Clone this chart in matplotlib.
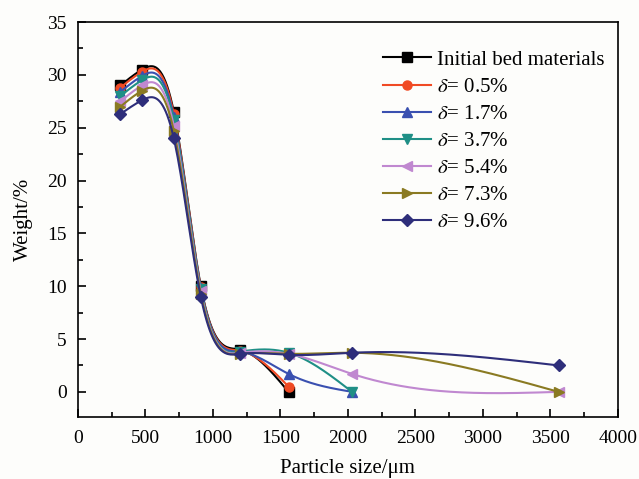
import numpy as np
import matplotlib
matplotlib.use("Agg")
import matplotlib.pyplot as plt

plt.rcParams['font.family'] = ['Liberation Serif', 'DejaVu Serif']
plt.rcParams['mathtext.fontset'] = 'stix'

# sieve sizes (um) and weight fractions (%)
size_a = [315, 475, 710, 910, 1200, 1560]
size_b = [315, 475, 710, 910, 1200, 1560, 2030]
size_c = [315, 475, 710, 910, 1200, 1560, 2030, 3560]

w_initial = [29.0, 30.5, 26.5, 10.0, 4.0, 0.0]
w_05 = [28.8, 30.3, 26.3, 9.9, 3.9, 0.5]
w_17 = [28.4, 29.9, 26.0, 9.8, 3.8, 1.7, 0.0]
w_37 = [28.0, 29.5, 25.7, 9.7, 3.8, 3.7, 0.0]
w_54 = [27.5, 29.0, 25.2, 9.5, 3.7, 3.6, 1.7, 0.0]
w_73 = [27.0, 28.5, 24.7, 9.3, 3.6, 3.6, 3.7, 0.0]
w_96 = [26.3, 27.6, 24.0, 9.0, 3.6, 3.5, 3.7, 2.5]

labels = ['Initial bed materials', r'$\delta$= 0.5%', r'$\delta$= 1.7%', r'$\delta$= 3.7%',
          r'$\delta$= 5.4%', r'$\delta$= 7.3%', r'$\delta$= 9.6%']
series = [(size_a, w_initial), (size_a, w_05), (size_b, w_17), (size_b, w_37),
          (size_c, w_54), (size_c, w_73), (size_c, w_96)]
colors = ['#000000', '#f04a24', '#3a50b0', '#1f8f86', '#c088d0', '#8a7a22', '#2e2e7a']
markers = ['s', 'o', '^', 'v', '<', '>', 'D']


def natural_spline(x, y, n=300):
    # plain natural cubic spline, only used to draw the smooth connecting line
    x = np.asarray(x, float)
    y = np.asarray(y, float)
    k = len(x)
    h = np.diff(x)
    A = np.zeros((k, k))
    b = np.zeros(k)
    A[0, 0] = 1
    A[-1, -1] = 1
    for i in range(1, k - 1):
        A[i, i - 1] = h[i - 1]
        A[i, i] = 2 * (h[i - 1] + h[i])
        A[i, i + 1] = h[i]
        b[i] = 6 * ((y[i + 1] - y[i]) / h[i] - (y[i] - y[i - 1]) / h[i - 1])
    m = np.linalg.solve(A, b)
    xs = np.linspace(x[0], x[-1], n)
    idx = np.clip(np.searchsorted(x, xs) - 1, 0, k - 2)
    x0, x1 = x[idx], x[idx + 1]
    hh = x1 - x0
    t0 = x1 - xs
    t1 = xs - x0
    ys = (m[idx] * t0**3 + m[idx + 1] * t1**3) / (6 * hh) \
        + (y[idx] / hh - m[idx] * hh / 6) * t0 + (y[idx + 1] / hh - m[idx + 1] * hh / 6) * t1
    return xs, ys


fig = plt.figure(figsize=(6.39, 4.79), dpi=100, facecolor='#fdfdfb')
ax = fig.add_axes([0.122, 0.129, 0.845, 0.825])
ax.set_facecolor('#fdfdfb')

for (xv, yv), lab, c, mk in zip(series, labels, colors, markers):
    xs, ys = natural_spline(xv, yv)
    ax.plot(xs, ys, color=c, lw=1.5)
    ax.plot(xv, yv, ls='none', marker=mk, color=c, ms=6.5)
    ax.plot([], [], color=c, lw=1.5, marker=mk, ms=6.5, label=lab)

ax.set_xlim(0, 4000)
ax.set_ylim(-2.4, 35)
ax.set_xticks(np.arange(0, 4001, 500))
ax.set_xticks(np.arange(250, 4000, 500), minor=True)
ax.set_yticks(np.arange(0, 36, 5))
ax.set_yticks(np.arange(2.5, 35, 5), minor=True)
ax.tick_params(which='both', direction='in', top=False, right=False, labelsize=14, width=1.2)
ax.tick_params(axis='x', which='major', length=6, pad=9)
ax.tick_params(axis='y', which='major', length=6, pad=8)
ax.tick_params(which='minor', length=3.5)
for s in ax.spines.values():
    s.set_linewidth(1.2)

ax.set_xlabel('Particle size/μm', fontsize=15, labelpad=9)
ax.set_ylabel('Weight/%', fontsize=15, labelpad=10)

ax.legend(loc='upper left', bbox_to_anchor=(0.55, 0.95), frameon=False, fontsize=15,
          handlelength=2.3, labelspacing=0.36, handletextpad=0.3, borderaxespad=0)

fig.savefig('out.png', dpi=100, facecolor=fig.get_facecolor())
